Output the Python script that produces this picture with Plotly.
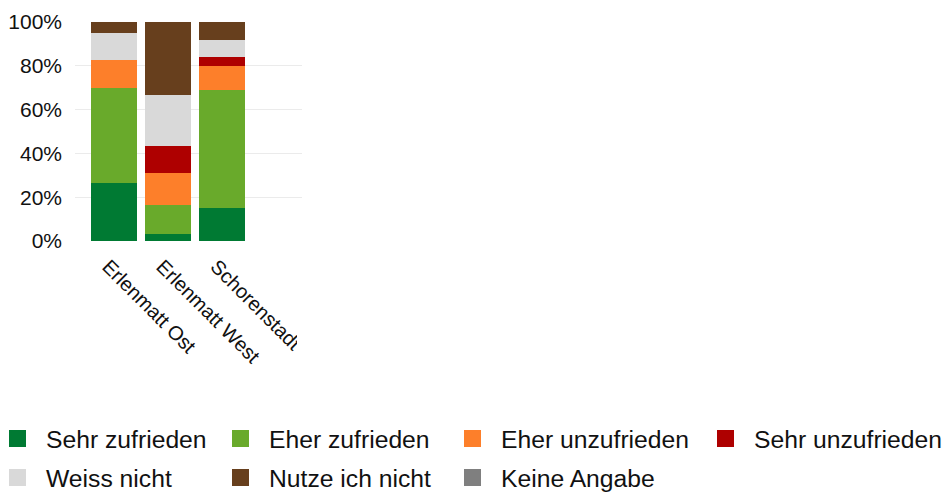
import plotly.graph_objects as go

# Survey: satisfaction per location (share of responses, %)
locations = ["Erlenmatt Ost", "Erlenmatt West", "Schorenstadt"]
categories = ["Sehr zufrieden", "Eher zufrieden", "Eher unzufrieden",
              "Sehr unzufrieden", "Weiss nicht", "Nutze ich nicht", "Keine Angabe"]
sehr_zufrieden = [26.3, 3.2, 14.9]
eher_zufrieden = [43.7, 13.3, 54.2]
eher_unzufrieden = [12.4, 14.4, 10.9]
sehr_unzufrieden = [0.0, 12.3, 4.2]
weiss_nicht = [12.5, 23.4, 7.5]
nutze_nicht = [5.1, 33.4, 8.3]
keine_angabe = [0.0, 0.0, 0.0]
y_ticks = [0, 20, 40, 60, 80, 100]
y_tick_labels = ["0%", "20%", "40%", "60%", "80%", "100%"]

series = [sehr_zufrieden, eher_zufrieden, eher_unzufrieden, sehr_unzufrieden,
          weiss_nicht, nutze_nicht, keine_angabe]
colors = ["#007A33", "#69AA2B", "#FD7F2A", "#AE0000", "#D9D9D9", "#673F1D", "#7F7F7F"]

# legend grid: (entry left px, row centre px) for each entry
legend_pos = [(-11, 439), (212, 439), (444, 439), (697, 439),
              (-11, 478), (212, 478), (444, 478)]

W, H = 949, 493
PLOT_L, PLOT_R, PLOT_T, PLOT_B = 75, 302, 21, 242
FONT = "Liberation Sans, Arial, sans-serif"
fig = go.Figure()
for name, vals, col in zip(categories, series, colors):
    fig.add_trace(go.Bar(x=locations, y=vals, name=name, marker_color=col,
                         marker_line_width=0, showlegend=False))

# legend entries, one legend per slot so the columns line up
layout_legends = {}
for i, (name, col) in enumerate(zip(categories, colors)):
    key = "legend" if i == 0 else f"legend{i + 1}"
    fig.add_trace(go.Bar(x=[None], y=[None], name=name,
                         marker=dict(color=col, line=dict(color=col, width=5)),
                         legend=key, showlegend=True))
    px, py = legend_pos[i]
    layout_legends[key] = dict(
        x=(px - PLOT_L) / (PLOT_R - PLOT_L), xref="paper",
        y=1 - py / H, yref="container",
        xanchor="left", yanchor="middle", orientation="v", itemwidth=47,
        font=dict(family=FONT, size=24.7, color="#111111"),
        bgcolor="rgba(0,0,0,0)", borderwidth=0, itemclick=False,
    )

fig.update_layout(
    width=W, height=H,
    margin=dict(l=PLOT_L, r=W - PLOT_R, t=PLOT_T, b=H - PLOT_B, pad=0, autoexpand=False),
    barmode="stack", bargap=0.15,
    plot_bgcolor="white", paper_bgcolor="white",
    font=dict(family=FONT, color="#111111"),
    **layout_legends,
)
fig.update_yaxes(range=[-0.4, 100.4], tickvals=y_ticks, ticktext=y_tick_labels,
                 showgrid=True, gridcolor="#EBEBEB", gridwidth=1,
                 zeroline=False, showline=False, ticks="",
                 ticklabelstandoff=12, tickfont=dict(size=21, color="#111111"))
fig.update_xaxes(type="category", range=[-0.72, 3.47], tickangle=45, showgrid=False,
                 showline=False, zeroline=False, ticks="",
                 ticklabelstandoff=8, ticklabelshift=-6,
                 tickfont=dict(size=20, color="#111111"))

# the last category label runs past the panel edge and is cut there
fig.add_shape(type="rect", xref="paper", yref="paper",
              x0=(297 - PLOT_L) / (PLOT_R - PLOT_L), x1=(360 - PLOT_L) / (PLOT_R - PLOT_L),
              y0=(PLOT_B - 250) / (PLOT_B - PLOT_T), y1=(PLOT_B - 400) / (PLOT_B - PLOT_T),
              fillcolor="white", line_width=0, layer="above")

fig.write_html("out.html")
